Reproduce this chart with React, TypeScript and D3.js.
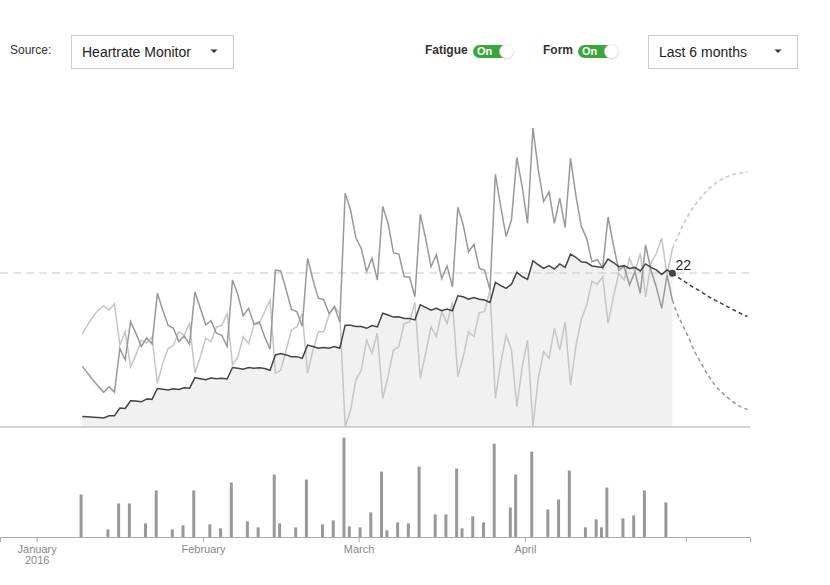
import React, { useEffect, useRef } from "react";
import * as d3 from "d3";

// ---------- data ----------
const lineStart = "2016-01-09";

const fitness = [
  1.5, 1.45, 1.4, 1.35, 1.3, 1.6, 1.6, 2.7, 2.65, 3.75, 3.7, 3.6, 4.0, 3.95, 5.5, 5.4, 5.3, 5.45, 5.35, 5.6,
  5.55, 7.05, 6.9, 6.75, 7.0, 6.9, 6.95, 6.85, 8.5, 8.4, 8.25, 8.5, 8.4, 8.45, 8.35, 8.1, 10.3, 10.5, 10.3, 10.05,
  10.05, 9.8, 11.7, 11.5, 11.25, 11.35, 11.25, 11.5, 11.25, 14.55, 14.55, 14.35, 14.35, 14.1, 14.5, 14.3, 16.25, 16.0, 15.7, 15.75,
  15.5, 15.5, 15.3, 17.45, 17.1, 16.7, 16.95, 16.6, 16.85, 16.6, 18.75, 18.6, 18.25, 18.5, 18.25, 18.15, 17.8, 20.65, 20.2, 19.8,
  20.4, 22.1, 21.5, 21.1, 23.75, 23.15, 22.65, 23.05, 22.55, 23.3, 22.8, 24.7, 24.25, 23.6, 23.5, 23.0, 22.9, 22.8, 24.0, 23.5,
  22.9, 23.05, 22.65, 22.8, 22.3, 23.3, 22.8, 22.45, 21.8, 22.45, 21.95,
];

const fatigue = [
  8.7, 7.7, 6.7, 5.8, 4.95, 5.75, 4.95, 11.2, 9.6, 15.05, 13.4, 11.5, 12.7, 11.85, 19.1, 16.7, 14.5, 14.1, 12.2, 13.0,
  11.85, 19.3, 16.95, 14.6, 15.2, 13.4, 13.1, 11.5, 21.0, 18.9, 15.9, 16.95, 14.7, 15.0, 12.9, 11.1, 22.4, 22.3, 19.6, 16.8,
  16.5, 14.4, 24.1, 21.0, 18.4, 18.2, 16.2, 17.2, 15.0, 33.4, 31.0, 27.0, 25.5, 22.2, 24.1, 21.0, 31.5, 29.1, 24.9, 24.7,
  21.5, 21.4, 18.6, 30.4, 26.95, 22.9, 24.6, 21.2, 23.0, 20.0, 31.4, 28.9, 25.0, 26.1, 22.7, 22.4, 19.6, 36.1, 31.5, 27.2,
  29.6, 38.5, 34.3, 29.1, 42.7, 36.7, 32.2, 33.6, 29.1, 32.7, 28.5, 38.4, 33.1, 28.7, 26.95, 23.6, 23.9, 22.7, 30.0, 26.0,
  22.4, 22.9, 20.3, 22.2, 19.1, 26.0, 22.4, 20.0, 16.95, 21.7, 18.1,
];

const form = [
  13.3, 14.6, 15.8, 16.7, 17.3, 16.7, 17.6, 11.7, 13.6, 8.6, 10.3, 12.4, 12.0, 12.9, 6.2, 9.1, 11.2, 11.7, 13.6, 13.1,
  14.8, 7.7, 10.0, 12.7, 12.2, 14.3, 14.5, 16.2, 8.9, 10.0, 12.9, 11.95, 14.6, 14.8, 16.5, 18.1, 7.7, 8.1, 11.0, 13.9,
  14.3, 16.2, 7.7, 11.0, 13.6, 13.6, 16.0, 17.2, 16.2, 0.05, 2.4, 6.7, 8.1, 12.4, 10.5, 13.4, 4.1, 7.2, 11.0, 11.5,
  14.8, 15.0, 17.8, 6.95, 10.5, 14.3, 12.9, 16.5, 14.8, 17.9, 7.2, 10.0, 13.6, 12.9, 16.3, 16.5, 19.6, 4.1, 9.1, 13.1,
  11.0, 2.9, 8.6, 12.4, 0.1, 6.95, 10.8, 9.8, 14.1, 11.0, 15.0, 6.0, 11.5, 15.3, 17.4, 20.8, 20.4, 21.5, 14.8, 18.6,
  21.95, 21.0, 24.1, 22.2, 24.8, 18.6, 23.4, 24.8, 26.95, 21.7, 25.5,
];

const projFitness = [21.95, 21.4, 20.9, 20.4, 19.9, 19.5, 19.0, 18.5, 18.1, 17.7, 17.3, 16.9, 16.5, 16.1, 15.8];
const projFatigue = [18.1, 16.0, 14.4, 12.8, 11.0, 9.6, 8.2, 7.0, 5.9, 5.1, 4.4, 3.8, 3.2, 2.8, 2.5];
const projForm = [25.5, 27.2, 28.9, 30.3, 31.5, 32.5, 33.4, 34.2, 34.8, 35.3, 35.7, 36.0, 36.2, 36.3, 36.4];

const barDates = [
  "2016-01-09", "2016-01-14", "2016-01-16", "2016-01-18", "2016-01-21", "2016-01-23", "2016-01-26", "2016-01-28",
  "2016-01-30", "2016-02-02", "2016-02-04", "2016-02-06", "2016-02-09", "2016-02-11", "2016-02-14", "2016-02-15",
  "2016-02-18", "2016-02-20", "2016-02-23", "2016-02-25", "2016-02-27", "2016-02-28", "2016-03-01", "2016-03-03",
  "2016-03-05", "2016-03-06", "2016-03-08", "2016-03-10", "2016-03-12", "2016-03-15", "2016-03-17", "2016-03-19",
  "2016-03-20", "2016-03-22", "2016-03-24", "2016-03-26", "2016-03-29", "2016-03-30", "2016-04-02", "2016-04-05",
  "2016-04-07", "2016-04-09", "2016-04-12", "2016-04-14", "2016-04-15", "2016-04-16", "2016-04-19", "2016-04-21",
  "2016-04-23", "2016-04-27",
];
const barValues = [
  43, 8, 34, 34, 14, 47, 8, 12, 47, 13, 9, 55, 16, 10, 63, 14, 10, 58, 13, 17, 100, 11, 10, 25, 66, 7, 15, 14, 71, 23,
  23, 69, 9, 21, 15, 94, 30, 63, 86, 28, 38, 67, 10, 18, 10, 50, 19, 22, 47, 35,
];

const tickDates = ["2016-01-01", "2016-02-01", "2016-03-01", "2016-04-01", "2016-05-01"];
const tickLabels = ["January|2016", "February", "March", "April", ""];

const currentValueLabel = "22";

// ---------- scales ----------
const parse = d3.timeParse("%Y-%m-%d");
const x = d3
  .scaleTime()
  .domain([new Date(2015, 11, 25, 4), new Date(2016, 4, 12, 23)])
  .range([0, 750]);
const y = d3.scaleLinear().domain([0, 44]).range([427, 119]);
const yBar = d3.scaleLinear().domain([0, 100]).range([537.3, 437.7]);

const start = parse(lineStart) as Date;
const dayAt = (i: number) => d3.timeHour.offset(d3.timeDay.offset(start, i), 12);
const mainDates = fitness.map((_, i) => dayAt(i));
const projDates = projFitness.map((_, i) => dayAt(fitness.length - 1 + i));

const FONT = "'Liberation Sans', Arial, Helvetica, sans-serif";

function Dropdown({ x0, w, label }: { x0: number; w: number; label: string }) {
  const cx = x0 + w - 19;
  return (
    <g>
      <rect x={x0 + 0.5} y={35.5} width={w} height={33} fill="#fff" stroke="#ccc" />
      <text x={x0 + 11} y={57} fontSize={14} fill="#222" fontFamily={FONT}>
        {label}
      </text>
      <path d={`M${cx - 3.5},49.5 L${cx + 3.5},49.5 L${cx},53 Z`} fill="#333" />
    </g>
  );
}

function Toggle({ x0, label, labelX }: { x0: number; label: string; labelX: number }) {
  return (
    <g>
      <text x={labelX} y={54.3} fontSize={12} fontWeight="bold" fill="#333" fontFamily={FONT}>
        {label}
      </text>
      <rect x={x0} y={45} width={40} height={13} rx={6.5} fill="#3aa63c" />
      <text x={x0 + 4} y={55.2} fontSize={11} fontWeight="bold" fill="#fff" fontFamily={FONT}>
        On
      </text>
      <circle cx={x0 + 33.5} cy={52.5} r={7} fill="#000" opacity={0.15} />
      <circle cx={x0 + 33.5} cy={51.5} r={7} fill="#fff" stroke="#ddd" strokeWidth={0.6} />
    </g>
  );
}

export default function App() {
  const axisRef = useRef<SVGGElement>(null);

  useEffect(() => {
    if (!axisRef.current) return;
    const g = d3.select(axisRef.current);
    g.selectAll("*").remove();
    const tv = tickDates.map((d) => parse(d) as Date);
    g.call(
      d3
        .axisBottom(x)
        .tickValues(tv)
        .tickSize(5)
        .tickSizeOuter(5)
        .tickPadding(3)
        .tickFormat(() => "")
    );
    g.attr("font-family", FONT).attr("font-size", 11);
    g.select(".domain").attr("stroke", "#aaa");
    g.selectAll(".tick line").attr("stroke", "#aaa");
    g.selectAll<SVGTextElement, Date>(".tick text").each(function (_d, i) {
      const t = d3.select(this);
      t.attr("fill", "#888").attr("dy", null).text(null);
      const parts = tickLabels[i] ? tickLabels[i].split("|") : [];
      parts.forEach((p, k) => {
        t.append("tspan").attr("x", 0).attr("dy", k === 0 ? "0.71em" : "1em").text(p);
      });
    });
  }, []);

  const lineGen = d3
    .line<number>()
    .x((_, i) => x(mainDates[i]))
    .y((d) => y(d));
  const areaGen = d3
    .area<number>()
    .x((_, i) => x(mainDates[i]))
    .y0(y(0))
    .y1((d) => y(d));
  const projGen = d3
    .line<number>()
    .x((_, i) => x(projDates[i]))
    .y((d) => y(d))
    .curve(d3.curveMonotoneX);

  const lastX = x(mainDates[mainDates.length - 1]);
  const lastY = y(fitness[fitness.length - 1]);

  return (
    <div style={{ position: "absolute", left: 0, top: 0, width: 830, height: 585, background: "#fff" }}>
      <svg width={830} height={585} style={{ display: "block" }}>
        {/* header controls */}
        <text x={10} y={54} fontSize={12} fill="#333" fontFamily={FONT}>
          Source:
        </text>
        <Dropdown x0={71} w={162} label="Heartrate Monitor" />
        <Toggle x0={473} label="Fatigue" labelX={425} />
        <Toggle x0={578} label="Form" labelX={543} />
        <Dropdown x0={648} w={149} label="Last 6 months" />

        {/* main chart */}
        <path d={areaGen(fitness) || ""} fill="#f1f1f1" />
        <line x1={0} x2={750} y1={y(22)} y2={y(22)} stroke="#c8c8c8" strokeDasharray="8,5" />
        <line x1={0} x2={750} y1={427} y2={427} stroke="#aaa" />
        <path d={lineGen(form) || ""} fill="none" stroke="#c6c6c6" strokeWidth={1.5} />
        <path d={lineGen(fatigue) || ""} fill="none" stroke="#999" strokeWidth={1.5} />
        <path d={lineGen(fitness) || ""} fill="none" stroke="#444" strokeWidth={1.5} />
        <path d={projGen(projForm) || ""} fill="none" stroke="#c6c6c6" strokeWidth={1.5} strokeDasharray="4,3" />
        <path d={projGen(projFatigue) || ""} fill="none" stroke="#999" strokeWidth={1.5} strokeDasharray="4,3" />
        <path d={projGen(projFitness) || ""} fill="none" stroke="#444" strokeWidth={1.5} strokeDasharray="4,3" />
        <circle cx={lastX} cy={lastY} r={3.5} fill="#444" />
        <text x={lastX + 3} y={lastY - 3} fontSize={14} fill="#222" fontFamily={FONT}>
          {currentValueLabel}
        </text>

        {/* bars */}
        {barDates.map((d, i) => {
          const dt = parse(d) as Date;
          return (
            <rect
              key={d}
              x={x(dt)}
              y={yBar(barValues[i])}
              width={3}
              height={yBar(0) - yBar(barValues[i])}
              fill="#999"
            />
          );
        })}
        <g ref={axisRef} transform="translate(0,537)" />
      </svg>
    </div>
  );
}
